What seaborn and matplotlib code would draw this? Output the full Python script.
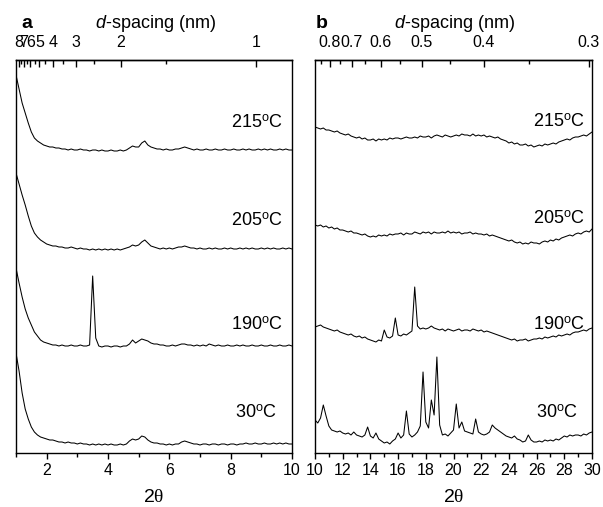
import numpy as np
import pandas as pd
import matplotlib
matplotlib.use('Agg')
import matplotlib.pyplot as plt
import seaborn as sns
from matplotlib.ticker import FixedLocator, MultipleLocator, NullFormatter

sns.set_theme(style='ticks')
plt.rcParams['font.family'] = ['Liberation Sans', 'DejaVu Sans']
plt.rcParams['mathtext.fontset'] = 'custom'
plt.rcParams['mathtext.rm'] = 'Liberation Sans'
plt.rcParams['mathtext.it'] = 'Liberation Serif'
plt.rcParams['mathtext.sf'] = 'Liberation Sans:italic'
plt.rcParams['text.color'] = 'black'
plt.rcParams['axes.labelcolor'] = 'black'
plt.rcParams['xtick.color'] = 'black'
plt.rcParams['ytick.color'] = 'black'
plt.rcParams['axes.edgecolor'] = 'black'

WAVELENGTH = 0.15406  # nm, Cu K-alpha

# ---------------- data: panel a (2theta 1-10, step 0.1) ----------------
two_theta_a = np.round(np.arange(1.0, 10.0001, 0.1), 1)
int_a_215 = [76, 62, 48, 38, 28, 19, 13, 10, 8, 6,
             5, 4, 4, 3, 3, 2, 2, 1, 2, 1,
             1, 2, 1, 1, 0, 1, 1, 0, 1, 0,
             0, 1, 0, 0, 1, 0, 1, 3, 5, 4,
             4, 8, 10, 6, 4, 3, 2, 2, 1, 2,
             1, 1, 2, 2, 3, 4, 3, 2, 1, 2,
             1, 1, 2, 1, 1, 2, 1, 1, 2, 1,
             1, 2, 1, 1, 2, 1, 2, 1, 1, 2,
             1, 2, 1, 2, 1, 1, 2, 1, 2, 1,
             1]
int_a_205 = [77, 66, 55, 45, 34, 24, 17, 13, 10, 8,
             6, 5, 4, 4, 3, 3, 2, 2, 3, 2,
             1, 2, 1, 1, 0, 1, 0, 1, 0, 1,
             0, 1, 0, 1, 0, 1, 2, 3, 5, 4,
             5, 8, 10, 7, 4, 3, 2, 1, 2, 1,
             2, 1, 2, 3, 3, 4, 3, 2, 2, 1,
             2, 1, 1, 2, 1, 2, 1, 1, 2, 1,
             2, 1, 1, 2, 1, 2, 1, 2, 1, 1,
             2, 1, 2, 1, 2, 1, 1, 2, 1, 2,
             1]
int_a_190 = [79, 64, 50, 38, 29, 22, 15, 11, 7, 5,
             4, 3, 2, 2, 1, 2, 1, 1, 2, 1,
             1, 2, 1, 1, 2, 71, 9, 1, 0, 1,
             1, 0, 1, 1, 0, 1, 1, 3, 7, 4,
             6, 8, 7, 6, 4, 3, 3, 2, 2, 1,
             1, 2, 1, 2, 3, 3, 2, 2, 1, 2,
             1, 2, 1, 3, 2, 1, 2, 1, 1, 2,
             1, 1, 2, 1, 2, 1, 1, 2, 1, 1,
             2, 1, 1, 2, 1, 1, 2, 1, 1, 2,
             1]
int_a_30 = [92, 74, 52, 36, 26, 18, 13, 10, 8, 7,
            6, 5, 5, 4, 3, 3, 2, 3, 2, 2,
            1, 2, 1, 1, 0, 1, 0, 1, 0, 1,
            0, 1, 0, 0, 1, 0, 1, 4, 6, 5,
            6, 9, 8, 5, 3, 2, 2, 1, 1, 0,
            1, 0, 1, 1, 3, 4, 3, 2, 1, 1,
            0, 1, 1, 0, 1, 1, 0, 1, 1, 0,
            1, 1, 0, 1, 1, 2, 1, 1, 2, 1,
            1, 2, 1, 1, 2, 1, 2, 1, 2, 1,
            1]

# ---------------- data: panel b (2theta 10-30, step 0.2) ----------------
two_theta_b = np.round(np.arange(10.0, 30.0001, 0.2), 1)
int_b_215 = [13, 12, 11, 12, 10,  10, 9, 8, 9, 7,  6, 5, 6, 4, 3,  2, 3, 1, 2, 0,
             0, 1, -1, 1, 0,  1, 0, 2, 1, 2,  2, 1, 2, 3, 2,  2, 3, 2, 4, 3,
             3, 4, 2, 4, 5,  4, 3, 5, 4, 3,  4, 5, 4, 6, 5,  5, 4, 6, 4, 5,
             4, 5, 3, 4, 3,  2, 3, 1, 0, -1,  -3, -2, -4, -3, -5,  -5, -4, -6, -5, -7,
             -6, -5, -6, -4, -5,  -4, -3, -4, -2, -1,  0, 1, 0, 2, 3,  3, 4, 5, 4, 6,
             8]
int_b_205 = [12, 11, 12, 10, 11,  9, 10, 8, 9, 7,  7, 6, 5, 6, 4,  4, 3, 2, 3, 1,
             0, 1, 0, 2, 1,  2, 1, 3, 2, 3,  3, 4, 2, 4, 3,  3, 5, 4, 3, 5,
             4, 5, 3, 5, 4,  4, 5, 4, 6, 4,  5, 4, 5, 3, 4,  4, 5, 3, 4, 3,
             3, 2, 3, 1, 2,  1, 0, -1, -2, -3,  -4, -3, -5, -6, -5,  -7, -6, -7, -5, -6,
             -6, -7, -5, -4, -5,  -3, -4, -2, -3, -1,  0, 1, 2, 1, 3,  4, 3, 5, 6, 5,
             8]
int_b_190 = [13, 14, 15, 13, 12,  11, 10, 9, 10, 8,  7, 6, 5, 6, 4,  3, 4, 2, 3, 1,
             0, -1, -2, 0, -1,  10, 3, 2, 4, 22,  5, 4, 6, 5, 7,  9, 53, 14, 11, 12,
             11, 12, 14, 12, 11,  10, 11, 9, 11, 10,  9, 10, 11, 9, 10,  10, 9, 11, 10, 9,
             10, 8, 9, 8, 7,  6, 5, 4, 3, 2,  1, 0, 1, -1, 0,  0, 1, -1, 0, 1,
             1, 2, 1, 3, 2,  3, 4, 3, 5, 4,  5, 6, 5, 7, 8,  8, 9, 10, 9, 11,
             12]
int_b_30 = [20, 17, 22, 35, 24,  14, 10, 9, 8, 9,  7, 6, 7, 5, 8,  5, 4, 3, 5, 13,
            4, 2, 7, 1, -1,  -3, -2, -4, -1, 1,  7, 2, 5, 29, 6,  3, 5, 8, 14, 68,
            18, 12, 40, 25, 83,  15, 5, 6, 4, 7,  10, 36, 12, 18, 9,  8, 7, 6, 21, 8,
            6, 5, 6, 8, 15,  12, 10, 8, 6, 4,  3, 2, 4, 1, 0,  -2, -1, 5, 0, -2,
            -2, -1, -2, 0, -1,  0, -1, 1, 0, 2,  4, 3, 5, 4, 5,  5, 4, 6, 5, 7,
            8]

temps = ['215', '205', '190', '30']
series_a = [int_a_215, int_a_205, int_a_190, int_a_30]
series_b = [int_b_215, int_b_205, int_b_190, int_b_30]

d_major_a = [8, 7, 6, 5, 4, 3, 2, 1]
d_minor_a = [7.5, 6.5, 5.5, 4.5, 3.5, 2.5, 1.5]
d_major_b = [0.8, 0.7, 0.6, 0.5, 0.4, 0.3]
d_minor_b = [0.85, 0.75, 0.65, 0.55, 0.45, 0.35]

# ---------------- layout (stacking offsets etc.) ----------------
offsets_a = [302, 203, 106, 8]
offsets_b = [313, 216, 113, 13]

W, H = 603, 507
fig = plt.figure(figsize=(W / 100, H / 100), dpi=100)
ax_a = fig.add_axes([16 / W, 1 - 453 / H, 276 / W, 393 / H])
ax_b = fig.add_axes([315 / W, 1 - 453 / H, 277 / W, 393 / H])


def tt2d(tt):
    tt = np.clip(np.asarray(tt, float), 1e-3, None)
    return WAVELENGTH / (2 * np.sin(np.radians(tt / 2)))


def d2tt(d):
    d = np.clip(np.asarray(d, float), 1e-6, None)
    return 2 * np.degrees(np.arcsin(np.clip(WAVELENGTH / (2 * d), -1, 1)))


def make_df(x, series, offsets):
    frames = []
    for t, s, off in zip(temps, series, offsets):
        frames.append(pd.DataFrame({'two_theta': x, 'y': np.asarray(s, float) + off, 'trace': t}))
    return pd.concat(frames, ignore_index=True)


lw = 0.75
for ax, x, series, offs, xlim, dmaj, dmin, dlab in [
    (ax_a, two_theta_a, series_a, offsets_a, (1, 10), d_major_a, d_minor_a, [str(v) for v in d_major_a]),
    (ax_b, two_theta_b, series_b, offsets_b, (10, 30), d_major_b, d_minor_b, ['%.1f' % v for v in d_major_b]),
]:
    df = make_df(x, series, offs)
    sns.lineplot(data=df, x='two_theta', y='y', units='trace', estimator=None,
                 color='black', lw=lw, ax=ax, legend=False)
    ax.set_xlim(*xlim)
    ax.set_ylim(0, 393)
    ax.set_yticks([])
    ax.set_ylabel('')
    ax.set_xlabel(r'2$\theta$', fontsize=14, labelpad=8)
    for sp in ax.spines.values():
        sp.set_linewidth(1.0)
        sp.set_color('black')
        sp.set_visible(True)
    ax.xaxis.set_major_locator(MultipleLocator(2))
    ax.xaxis.set_minor_locator(MultipleLocator(1))
    ax.tick_params(axis='x', which='major', direction='out', length=4.5, width=1.0,
                   labelsize=11.5, pad=2.5, colors='black', bottom=True, top=False)
    ax.tick_params(axis='x', which='minor', direction='out', length=2.7, width=1.0,
                   bottom=True, top=False)
    sec = ax.secondary_xaxis('top', functions=(tt2d, d2tt))
    sec.set_xticks(dmaj, labels=dlab)
    sec.xaxis.set_minor_locator(FixedLocator(dmin))
    sec.xaxis.set_minor_formatter(NullFormatter())
    sec.tick_params(which='major', direction='in', length=5, width=1.0, labelsize=11.5,
                    pad=7, colors='black')
    sec.tick_params(which='minor', direction='in', length=2.7, width=1.0, colors='black')
    sec.spines['top'].set_linewidth(1.0)
    sec.spines['top'].set_color('black')

ax_a.set_xticks([2, 4, 6, 8, 10])

# temperature labels
lab_pos_a = [(283, 123), (283, 221), (283, 325), (277, 413)]
lab_pos_b = [(585, 122), (585, 219), (585, 325), (578, 413)]
for t, (px, py) in zip(temps, lab_pos_a):
    fig.text(px / W, 1 - py / H, t + r'$^\mathrm{o}$C', ha='right', va='center', fontsize=13)
for t, (px, py) in zip(temps, lab_pos_b):
    fig.text(px / W, 1 - py / H, t + r'$^\mathrm{o}$C', ha='right', va='center', fontsize=13)

# panel titles
fig.text(27 / W, 1 - 24 / H, 'a', fontsize=14, fontweight='bold', ha='center', va='center')
fig.text(322 / W, 1 - 24 / H, 'b', fontsize=14, fontweight='bold', ha='center', va='center')
fig.text(155 / W, 1 - 23 / H, r'$\mathsf{d}$-spacing (nm)', fontsize=13, ha='center', va='center')
fig.text(454 / W, 1 - 23 / H, r'$\mathsf{d}$-spacing (nm)', fontsize=13, ha='center', va='center')

fig.savefig('out.png', dpi=100)
